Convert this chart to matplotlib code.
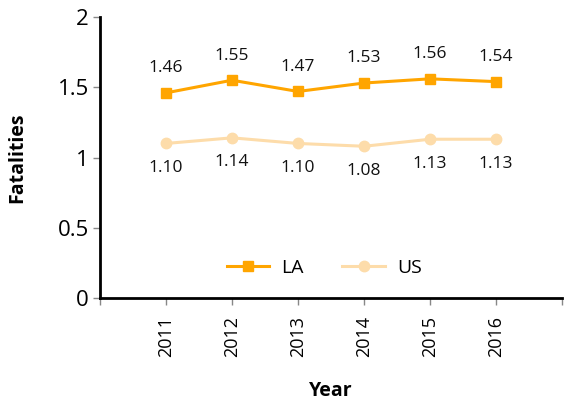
import matplotlib
matplotlib.use("Agg")
import matplotlib.pyplot as plt

years = ["2011", "2012", "2013", "2014", "2015", "2016"]
la = [1.46, 1.55, 1.47, 1.53, 1.56, 1.54]
us = [1.10, 1.14, 1.10, 1.08, 1.13, 1.13]
la_labels = ["1.46", "1.55", "1.47", "1.53", "1.56", "1.54"]
us_labels = ["1.10", "1.14", "1.10", "1.08", "1.13", "1.13"]

plt.rcParams['font.family'] = ['Open Sans', 'DejaVu Sans']

fig = plt.figure(figsize=(5.64, 4.09), dpi=100)
ax = fig.add_axes([100/564, 1 - 298/409, 462/564, 281/409])

x = list(range(1, len(years) + 1))
la_c = "#FFA500"
us_c = "#FDDCAA"
ax.plot(x, la, color=la_c, lw=2.2, marker="s", ms=7.5, label="LA", zorder=3)
ax.plot(x, us, color=us_c, lw=2.2, marker="o", ms=7.5, label="US", zorder=2)

for xi, v, t in zip(x, la, la_labels):
    ax.annotate(t, (xi, v), xytext=(0, 12), textcoords="offset points",
                ha="center", va="bottom", fontsize=12.5, color="#111111")
for xi, v, t in zip(x, us, us_labels):
    ax.annotate(t, (xi, v), xytext=(0, -12), textcoords="offset points",
                ha="center", va="top", fontsize=12.5, color="#111111")

ax.set_xlim(0, len(years) + 1)
ax.set_ylim(0, 2)
ax.set_xticks(range(0, len(years) + 2))
ax.set_xticklabels([""] + years + [""], rotation=90, fontsize=13)
ax.set_yticks([0, 0.5, 1, 1.5, 2])
ax.set_yticklabels(["0", "0.5", "1", "1.5", "2"], fontsize=16)

for s in ["top", "right"]:
    ax.spines[s].set_visible(False)
for s in ["left", "bottom"]:
    ax.spines[s].set_linewidth(2)
    ax.spines[s].set_color("black")
ax.tick_params(axis="both", direction="out", length=5, width=1, color="#888888", pad=3)
ax.tick_params(axis="x", pad=8)

ax.set_ylabel("Fatalities", fontsize=14, fontweight="bold")
ax.set_xlabel("Year", fontsize=14, fontweight="bold")
ax.yaxis.set_label_coords(-0.158, 0.5)
ax.xaxis.set_label_coords(0.5, -0.295)

ax.legend(loc="center", bbox_to_anchor=(0.485, 0.107), ncol=2, frameon=False,
          fontsize=14, handlelength=2.2, columnspacing=2.0, handletextpad=0.6)

fig.savefig("out.png", dpi=100)
